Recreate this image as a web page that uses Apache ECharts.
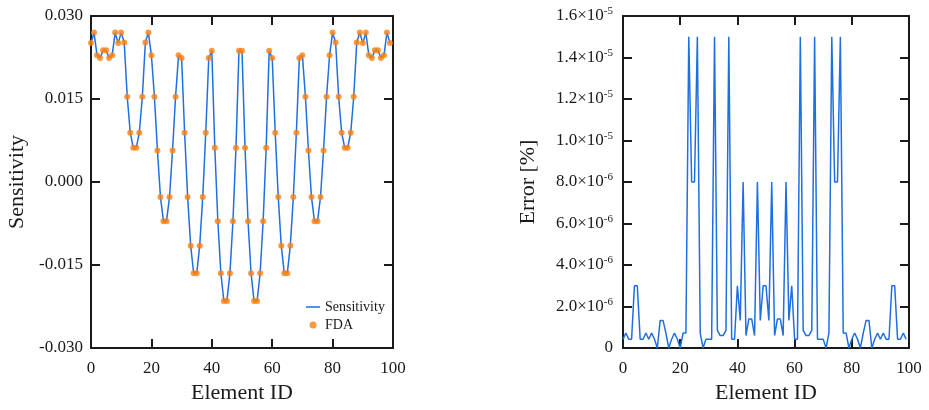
<!DOCTYPE html>
<html>
<head>
<meta charset="utf-8">
<script src="https://cdn.jsdelivr.net/npm/echarts@6/dist/echarts.min.js"></script>
<style>
  html, body { margin: 0; padding: 0; background: #fff; }
  #chart { width: 929px; height: 410px; }
</style>
</head>
<body>
<div id="chart"></div>
<script>
// element ids 0..99
const elementIds = Array.from({ length: 100 }, (_, i) => i);

// sensitivity (same values shown by the FDA dots)
const sensitivity = [
  0.0251, 0.0270, 0.0229, 0.0224, 0.0238, 0.0238, 0.0224, 0.0229, 0.0270, 0.0251, 0.0270, 0.0252,
  0.0154, 0.0089, 0.0062, 0.0062, 0.0089, 0.0154, 0.0252, 0.0270, 0.0229, 0.0154, 0.0057, -0.0027,
  -0.0071, -0.0071, -0.0027, 0.0057, 0.0154, 0.0229, 0.0224, 0.0089, -0.0027, -0.0115, -0.0165, -0.0165,
  -0.0115, -0.0027, 0.0089, 0.0224, 0.0237, 0.0062, -0.0071, -0.0165, -0.0215, -0.0215, -0.0165, -0.0071, 0.0062, 0.0237,
  0.0237, 0.0062, -0.0071, -0.0165, -0.0215, -0.0215, -0.0165, -0.0071, 0.0062, 0.0237, 0.0224, 0.0089, -0.0027, -0.0115,
  -0.0165, -0.0165, -0.0115, -0.0027, 0.0089, 0.0224, 0.0229, 0.0154, 0.0057, -0.0027, -0.0071, -0.0071,
  -0.0027, 0.0057, 0.0154, 0.0229, 0.0270, 0.0252, 0.0154, 0.0089, 0.0062, 0.0062, 0.0089, 0.0154,
  0.0252, 0.0270, 0.0251, 0.0270, 0.0229, 0.0224, 0.0238, 0.0238, 0.0224, 0.0229, 0.0270, 0.0251
];
const fda = sensitivity.slice();

// error [%], in units of 1e-6
const errorMicro = [
  0.42, 0.72, 0.42, 0.42, 3.0, 3.0, 0.42, 0.42, 0.72, 0.42, 0.72, 0.42,
  0, 1.33, 1.33, 0.72, 0, 0.42, 0.72, 0.42, 0, 0.72, 0.72, 15,
  8, 8, 15, 0.72, 0, 0.42, 0.42, 0.42, 15, 0.85, 0.6, 0.6, 0.85, 15,
  0.42, 0.42, 3.0, 1.33, 8, 0.6, 1.4, 1.4, 0.6, 8, 1.33, 3.0,
  3.0, 1.33, 8, 0.6, 1.4, 1.4, 0.6, 8, 1.33, 3.0, 0.42, 0.42,
  15, 0.85, 0.6, 0.6, 0.85, 15, 0.42, 0.42, 0.42, 0, 0.72, 15, 8, 8,
  15, 0.72, 0.72, 0, 0.42, 0.72, 0.42, 0, 0.72, 1.33, 1.33, 0,
  0.42, 0.72, 0.42, 0.72, 0.42, 0.42, 3.0, 3.0, 0.42, 0.42, 0.72, 0.42
];

// tick labels
const sensTickLabels = { '-0.03': '-0.030', '-0.015': '-0.015', '0': '0.000', '0.015': '0.015', '0.03': '0.030' };
const errorTickMantissa = ['0', '2.0', '4.0', '6.0', '8.0', '1.0', '1.2', '1.4', '1.6'];
const errorTickExponent = ['', '-6', '-6', '-6', '-6', '-5', '-5', '-5', '-5'];

const font = 'Liberation Serif';
const black = '#1a1a1a';
const blue = '#1f6fe0';
const orange = '#ff7f0e';

function boxAxis(extra) {
  return Object.assign({
    axisLine: { show: true, onZero: false, lineStyle: { color: black, width: 2 } },
    axisTick: { show: true, inside: true, length: 9, lineStyle: { color: black, width: 2 } },
    splitLine: { show: false },
    axisLabel: { show: false }
  }, extra);
}

const xLabel = { show: true, color: black, fontFamily: font, fontSize: 17, margin: 12 };
const nameStyle = { color: black, fontFamily: font, fontSize: 22 };

const option = {
  animation: false,
  legend: {
    left: 301, top: 295, orient: 'vertical',
    itemWidth: 14, itemHeight: 7, itemGap: 4,
    textStyle: { color: black, fontFamily: font, fontSize: 14 },
    data: [
      { name: 'Sensitivity', icon: 'path://M0,0H14V1.5H0Z' },
      { name: 'FDA', icon: 'circle' }
    ]
  },
  grid: [
    { left: 91, top: 16, width: 302, height: 332 },
    { left: 623, top: 16, width: 286, height: 332 }
  ],
  xAxis: [
    boxAxis({ gridIndex: 0, type: 'value', min: 0, max: 100, interval: 20, position: 'bottom',
      axisLabel: xLabel, name: 'Element ID', nameLocation: 'middle', nameGap: 34, nameTextStyle: nameStyle }),
    boxAxis({ gridIndex: 0, type: 'value', min: 0, max: 100, interval: 20, position: 'top' }),
    boxAxis({ gridIndex: 1, type: 'value', min: 0, max: 100, interval: 20, position: 'bottom',
      axisLabel: xLabel, name: 'Element ID', nameLocation: 'middle', nameGap: 34, nameTextStyle: nameStyle }),
    boxAxis({ gridIndex: 1, type: 'value', min: 0, max: 100, interval: 20, position: 'top' })
  ],
  yAxis: [
    boxAxis({ gridIndex: 0, type: 'value', min: -0.03, max: 0.03, interval: 0.015, position: 'left',
      axisLabel: { show: true, color: black, fontFamily: font, fontSize: 17, margin: 8,
        formatter: v => sensTickLabels[String(+v.toFixed(3))] },
      name: 'Sensitivity', nameLocation: 'middle', nameGap: 63, nameTextStyle: nameStyle }),
    boxAxis({ gridIndex: 0, type: 'value', min: -0.03, max: 0.03, interval: 0.015, position: 'right' }),
    boxAxis({ gridIndex: 1, type: 'value', min: 0, max: 16, interval: 2, position: 'left',
      axisLabel: { show: true, color: black, fontFamily: font, margin: 10,
        formatter: v => {
          const k = Math.round(v / 2);
          if (!errorTickExponent[k]) return '{m|' + errorTickMantissa[k] + '}';
          return '{m|' + errorTickMantissa[k] + '×10}{e|' + errorTickExponent[k] + '}';
        },
        rich: {
          m: { fontFamily: font, fontSize: 17, color: black, lineHeight: 20 },
          e: { fontFamily: font, fontSize: 11, color: black, lineHeight: 12, verticalAlign: 'top' }
        } },
      name: 'Error [%]', nameLocation: 'middle', nameGap: 84, nameTextStyle: nameStyle }),
    boxAxis({ gridIndex: 1, type: 'value', min: 0, max: 16, interval: 2, position: 'right' })
  ],
  series: [
    {
      name: 'Sensitivity', type: 'line', xAxisIndex: 0, yAxisIndex: 0,
      symbol: 'none', color: blue, lineStyle: { width: 1.5, color: blue },
      data: elementIds.map((id, i) => [id, sensitivity[i]]), z: 2
    },
    {
      name: 'FDA', type: 'scatter', xAxisIndex: 0, yAxisIndex: 0,
      symbolSize: 6, itemStyle: { color: orange },
      data: elementIds.map((id, i) => [id, fda[i]]), z: 3
    },
    {
      name: 'Error', type: 'line', xAxisIndex: 2, yAxisIndex: 2,
      symbol: 'none', lineStyle: { width: 1.5, color: blue },
      data: elementIds.map((id, i) => [id, errorMicro[i]])
    }
  ]
};

const myChart = echarts.init(document.getElementById('chart'));
myChart.setOption(option);
</script>
</body>
</html>
